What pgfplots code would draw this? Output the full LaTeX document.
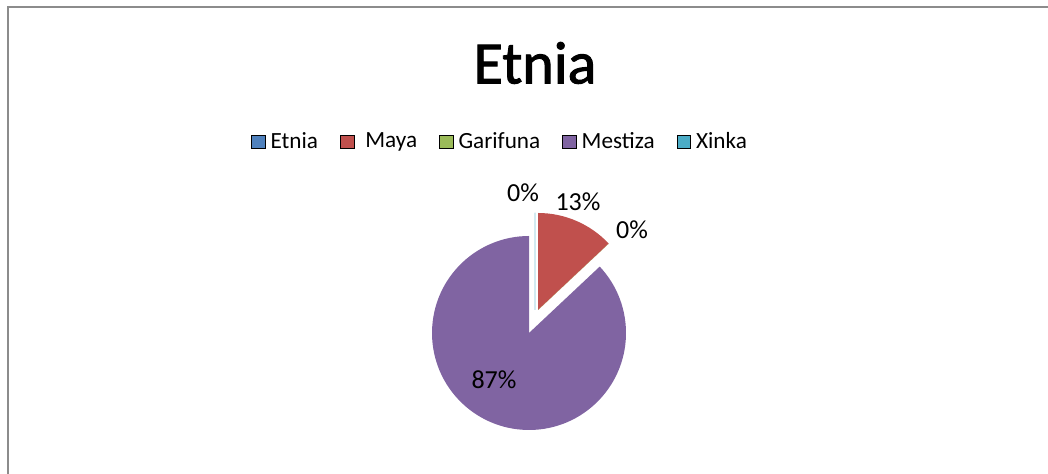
\documentclass[border=0pt]{standalone}
\usepackage{fontspec}
\setmainfont{Carlito}
\newfontfamily\titlefont[FakeBold=1.6]{Carlito}
\usepackage{pgfplots}
\usepackage{pgfplotstable}
\pgfplotsset{compat=1.18}

\definecolor{cEtnia}{HTML}{4F81BD}
\definecolor{cMaya}{HTML}{C0504D}
\definecolor{cGarifuna}{HTML}{9BBB59}
\definecolor{cMestiza}{HTML}{8064A2}
\definecolor{cXinka}{HTML}{4BACC6}
\colorlet{eEtnia}{cEtnia!25}
\colorlet{eXinka}{cXinka!25}
\definecolor{frame}{HTML}{8C8C8C}

% percentages, slice colour, edge colour, explode offset (px), label position (px, y up)
\pgfplotstableread{
name     value col       edge   dx  dy  lx  ly  show
Etnia    0     cEtnia    eEtnia 6   23  523 281 1
Maya     13    cMaya     none   9   23  578 272 1
Garifuna 0     cGarifuna none   9   23  632 244 1
Mestiza  87    cMestiza  none   0   0   494 94  1
Xinka    0     cXinka    eXinka 6   23  0   0   0
}\piedata

\begin{document}
\begin{tikzpicture}
\begin{axis}[
  x=0.5pt, y=0.5pt,
  xmin=0, xmax=1048, ymin=0, ymax=474,
  hide axis,
  legend columns=5,
  legend style={at={(axis cs:500,332)}, anchor=center, draw=none, fill=none,
    font=\fontsize{11.6}{13}\selectfont,
    nodes={inner sep=1pt},
    /tikz/every odd column/.append style={column sep=1.5pt},
    /tikz/every even column/.append style={column sep=10pt}},
  legend image code/.code={\fill[#1] (0pt,-3.4pt) rectangle (6.8pt,3.4pt);},
]
\addlegendimage{fill=cEtnia}
\addlegendentry{Etnia}
\addlegendimage{fill=cMaya}
\addlegendentry{\hspace{3pt}Maya}
\addlegendimage{fill=cGarifuna}
\addlegendentry{Garifuna}
\addlegendimage{fill=cMestiza}
\addlegendentry{Mestiza}
\addlegendimage{fill=cXinka}
\addlegendentry{Xinka}

% chart frame (only top and left edges fall inside the picture)
\draw[frame, line width=1pt] (axis cs:8,0) -- (axis cs:8,467) -- (axis cs:1048,467);

\node[font=\titlefont\fontsize{30}{36}\selectfont] at (axis cs:535,411) {Etnia};

\def\cx{529}
\def\cy{141}
\gdef\astart{90}
\pgfplotsforeachungrouped \i in {0,...,4}{%
  \pgfplotstablegetelem{\i}{value}\of\piedata \let\v=\pgfplotsretval
  \pgfplotstablegetelem{\i}{col}\of\piedata \let\c=\pgfplotsretval
  \pgfplotstablegetelem{\i}{edge}\of\piedata \let\e=\pgfplotsretval
  \pgfplotstablegetelem{\i}{dx}\of\piedata \let\dx=\pgfplotsretval
  \pgfplotstablegetelem{\i}{dy}\of\piedata \let\dy=\pgfplotsretval
  \pgfplotstablegetelem{\i}{lx}\of\piedata \let\lx=\pgfplotsretval
  \pgfplotstablegetelem{\i}{ly}\of\piedata \let\ly=\pgfplotsretval
  \pgfplotstablegetelem{\i}{show}\of\piedata \let\sh=\pgfplotsretval
  \pgfmathsetmacro\aend{\astart-3.6*\v}
  \pgfmathsetmacro\ox{\cx+\dx}
  \pgfmathsetmacro\oy{\cy+\dy}
  \edef\temp{\noexpand\fill[fill=\c, draw=\e, line width=0.6pt]
    (axis cs:\ox,\oy) -- ++(\astart:48.5pt)
    arc[start angle=\astart, end angle=\aend, radius=48.5pt] -- cycle;}
  \temp
  \ifnum\sh=1
    \pgfmathtruncatemacro\vv{\v}
    \edef\temp{\noexpand\node[font=\noexpand\fontsize{13}{15}\noexpand\selectfont]
      at (axis cs:\lx,\ly) {\vv\noexpand\%};}
    \temp
  \fi
  \global\let\astart=\aend
}
\end{axis}
\pgfresetboundingbox
\useasboundingbox (0,0) rectangle (524pt,237pt);
\end{tikzpicture}
\end{document}
